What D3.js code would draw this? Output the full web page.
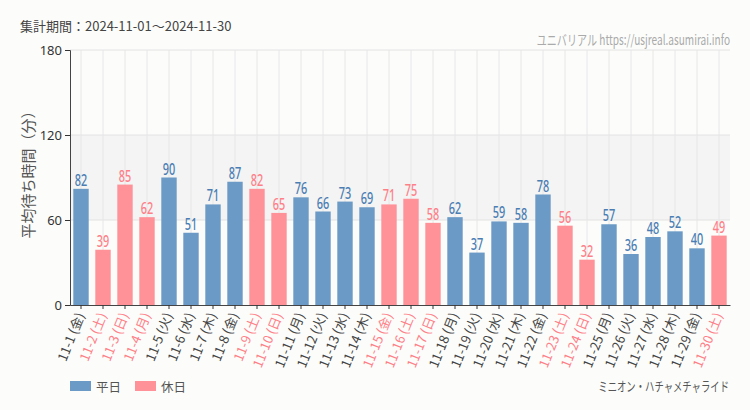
<!DOCTYPE html>
<html><head><meta charset="utf-8">
<script src="https://cdn.jsdelivr.net/npm/d3@7"></script>
<style>body{margin:0;background:#fcfdfb;}svg{display:block;}</style>
</head><body><svg id="c" width="750" height="410"></svg>
<script>
const dates = ["11-1","11-2","11-3","11-4","11-5","11-6","11-7","11-8","11-9","11-10","11-11","11-12","11-13","11-14","11-15","11-16","11-17","11-18","11-19","11-20","11-21","11-22","11-23","11-24","11-25","11-26","11-27","11-28","11-29","11-30"];
const weekdays = ["金","土","日","月","火","水","木","金","土","日","月","火","水","木","金","土","日","月","火","水","木","金","土","日","月","火","水","木","金","土"];
const values = [82,39,85,62,90,51,71,87,82,65,76,66,73,69,71,75,58,62,37,59,58,78,56,32,57,36,48,52,40,49];
const holiday = [0,1,1,1,0,0,0,0,1,1,0,0,0,0,1,1,1,0,0,0,0,0,1,1,0,0,0,0,0,1];
const yTicks = [0,60,120,180];
const legendLabels = ["平日","休日"];

const W=750,H=410, m={l:70,r:20,t:50,b:105};
const svg=d3.select("#c");
const sans="'Noto Sans',sans-serif";
const jp="'Noto Sans CJK JP','Noto Sans',sans-serif";
const blue="#6b9ac6", pink="#ff9299", blueT="#4a7db3", pinkT="#ff7f88";

const x=d3.scaleBand().domain(dates).range([m.l,W-m.r]).paddingInner(0.3).paddingOuter(0.15);
const y=d3.scaleLinear().domain([0,180]).range([H-m.b,m.t]);

svg.append("rect").attr("x",m.l).attr("width",W-m.r-m.l).attr("y",y(120)).attr("height",y(60)-y(120)).attr("fill","#f3f4f3");
svg.append("g").selectAll("line").data(yTicks.filter(d=>d>0)).join("line")
 .attr("x1",m.l).attr("x2",W-m.r).attr("y1",d=>y(d)).attr("y2",d=>y(d)).attr("stroke","#e2e2e2");
svg.append("g").selectAll("line").data(dates).join("line")
 .attr("x1",d=>x(d)+x.bandwidth()/2).attr("x2",d=>x(d)+x.bandwidth()/2).attr("y1",y(180)).attr("y2",y(0)).attr("stroke","#e6e6e6");

svg.append("g").selectAll("rect").data(values).join("rect")
 .attr("x",(d,i)=>x(dates[i])).attr("width",x.bandwidth())
 .attr("y",d=>y(d)).attr("height",d=>y(0)-y(d))
 .attr("fill",(d,i)=>holiday[i]?pink:blue);
svg.append("g").selectAll("text").data(values).join("text")
 .attr("transform",(d,i)=>`translate(${x(dates[i])+x.bandwidth()/2},${y(d)-3}) scale(0.64,1)`)
 .attr("text-anchor","middle").attr("font-family",sans).attr("font-size",17).attr("font-weight",500)
 .attr("fill",(d,i)=>holiday[i]?pinkT:blueT).text(d=>d);

const ya=svg.append("g").attr("transform",`translate(${m.l},0)`).call(d3.axisLeft(y).tickValues(yTicks).tickSize(5).tickPadding(3));
ya.selectAll("text").attr("font-family",sans).attr("font-size",13).attr("fill","#333");
ya.select(".domain").attr("stroke","#444");
ya.selectAll(".tick line").attr("stroke","#333");
const xa=svg.append("g").attr("transform",`translate(0,${y(0)})`).call(d3.axisBottom(x).tickSize(4).tickSizeOuter(0).tickFormat(""));
xa.select(".domain").attr("stroke","#444");
xa.selectAll(".tick line").attr("stroke","#333");
svg.append("g").selectAll("text").data(dates).join("text")
 .attr("transform",(d)=>`translate(${x(d)+x.bandwidth()/2+4},${y(0)+10}) rotate(-68)`)
 .attr("text-anchor","end").attr("font-family",jp).attr("font-size",13)
 .attr("fill",(d,i)=>holiday[i]?pinkT:"#444")
 .text((d,i)=>`${d} (${weekdays[i]})`);

svg.append("text").attr("transform",`translate(34,171) rotate(-90)`)
 .attr("text-anchor","middle").attr("font-family",jp).attr("font-size",15).attr("fill","#555").text("平均待ち時間（分）");

svg.append("text").attr("x",20).attr("y",31).attr("font-family",jp).attr("font-size",13).attr("fill","#444").text("集計期間：2024-11-01～2024-11-30");
svg.append("text").attr("transform","translate(730,45) scale(0.72,1)").attr("text-anchor","end").attr("font-family",jp).attr("font-size",14).attr("fill","#aaa").text("ユニバリアル  https://usjreal.asumirai.info");

const lg=svg.append("g").attr("transform","translate(70,381)");
legendLabels.forEach((t,i)=>{
  const g=lg.append("g").attr("transform",`translate(${i*65},0)`);
  g.append("rect").attr("width",21).attr("height",10).attr("fill",i?pink:blue);
  g.append("text").attr("x",26).attr("y",11).attr("font-family",jp).attr("font-size",12.5).attr("fill","#555").text(t);
});
svg.append("text").attr("transform","translate(729,391) scale(0.72,1)").attr("text-anchor","end").attr("font-family",jp).attr("font-size",13).attr("fill","#555").text("ミニオン・ハチャメチャライド");
</script></body></html>
